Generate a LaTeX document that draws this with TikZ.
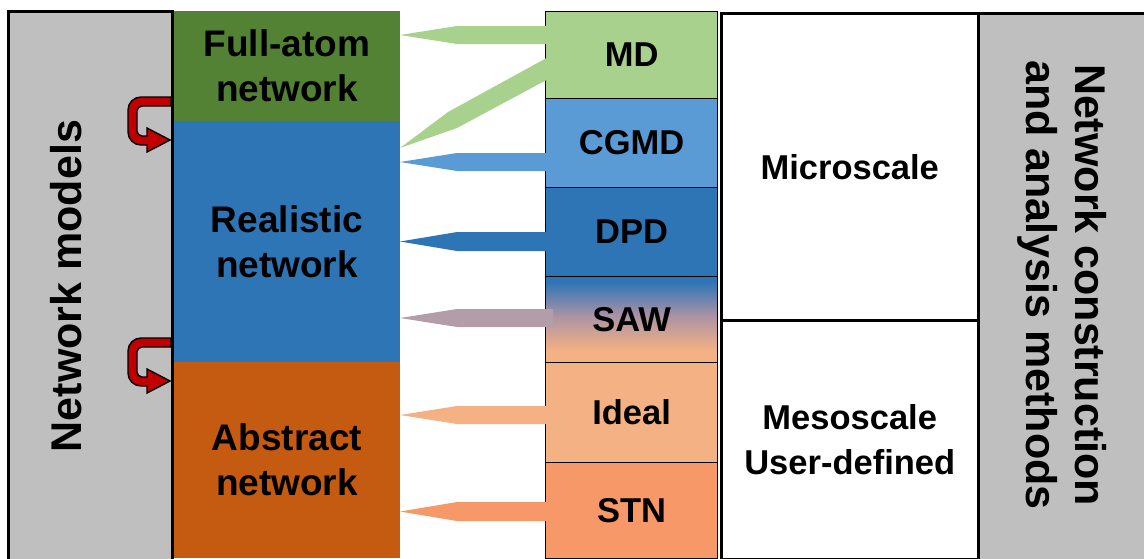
\documentclass[tikz,border=0pt]{standalone}
\usepackage{fontspec}
\setmainfont{Liberation Sans}
\usetikzlibrary{calc}
\definecolor{greyb}{HTML}{BFBFBF}
\definecolor{fullc}{HTML}{548235}
\definecolor{realc}{HTML}{2E75B6}
\definecolor{absc}{HTML}{C55A11}
\definecolor{mdc}{HTML}{A9D18E}
\definecolor{cgmdc}{HTML}{5B9BD5}
\definecolor{dpdc}{HTML}{2E75B6}
\definecolor{mauvec}{HTML}{AC93A4}
\definecolor{idealc}{HTML}{F4B183}
\definecolor{stnc}{HTML}{F79868}
\definecolor{sawarr}{HTML}{B39DA8}
\definecolor{redc}{HTML}{C00000}
\pgfdeclareverticalshading{sawshade}{100bp}{color(0bp)=(idealc); color(32bp)=(idealc); color(52bp)=(mauvec); color(72bp)=(dpdc); color(100bp)=(dpdc)}
\newcommand\connwedge[6]{%
  \fill[#1] ($(#2.west |- 0,#4)+(#6,0)$) -- (457,#4) -- (#3.east |- 0,{(#4+#5)/2})
     -- (457,#5) -- ($(#2.west |- 0,#5)+(#6,0)$) -- cycle;}
\begin{document}
\begin{tikzpicture}[x=1pt,y=-1pt,
  font=\bfseries\fontsize{34.5}{45}\selectfont,
  colbox/.style={anchor=north west, inner sep=0pt, outer sep=0pt, align=center, minimum width=226pt,
    font=\bfseries\fontsize{37}{45}\selectfont},
  methodbox/.style={anchor=north west, draw=black, line width=1.2pt, inner sep=0pt, minimum width=172pt},
  scalebox/.style={anchor=north west, draw=black, line width=3pt, fill=white, inner sep=0pt, align=center, minimum width=257.5pt},
  bigtext/.style={font=\bfseries\fontsize{43}{49}\selectfont, align=center, inner sep=0pt},
  uarrow/.style={fill=redc, draw=black, line width=1.4pt, line join=miter}]
\useasboundingbox (0,0) rectangle (1144,558);
\clip (0,0) rectangle (1144,558);

% left grey box
\draw[line width=3pt, fill=greyb] (8.5,11.5) rectangle (172.5,575);
\node[bigtext, rotate=90] (models) at (66,286) {Network models};

% network model column
\node[colbox, fill=fullc, minimum height=110pt] (full) at (174,11) {Full-atom\\network};
\node[colbox, fill=realc, minimum height=241pt] (real) at (174,121) {Realistic\\network};
\node[colbox, fill=absc, minimum height=196pt] (abs) at (174,362) {Abstract\\network};

% method column
\node[methodbox, fill=mdc, minimum height=87pt] (md) at (545,11) {MD};
\node[methodbox, fill=cgmdc, minimum height=89pt] (cgmd) at (545,98) {CGMD};
\node[methodbox, fill=dpdc, minimum height=89pt] (dpd) at (545,187) {DPD};
\node[methodbox, shading=sawshade, minimum height=86pt] (saw) at (545,276) {SAW};
\node[methodbox, fill=idealc, minimum height=100pt] (ideal) at (545,362) {Ideal};
\node[methodbox, fill=stnc, minimum height=96pt] (stn) at (545,462) {STN};

% scale column
\node[scalebox, minimum height=307.5pt] (micro) at (719.5,11.5) {Microscale};
\node[scalebox, minimum height=239pt] (meso) at (719.5,319) {Mesoscale\\User-defined};

% right grey box
\node[anchor=north west, draw=black, line width=3pt, fill=greyb, minimum width=200pt, minimum height=570pt] (methods) at (977,11.5) {};
\node[bigtext, rotate=-90] (methodstext) at (1062,285) {Network construction\\and analysis methods};

% wedge connectors
\connwedge{mdc}{md}{full}{26}{44}{1.5}
\fill[mdc] ($(md.west |- 0,58)+(1.5,0)$) -- (448,112) -- (real.east |- 0,148) -- (457,128) -- ($(md.west |- 0,80)+(1.5,0)$) -- cycle;
\connwedge{cgmdc}{cgmd}{real}{153}{171}{1.5}
\connwedge{dpdc}{dpd}{real}{232}{251}{1.5}
\connwedge{sawarr}{saw}{real}{309}{327}{8}
\connwedge{idealc}{ideal}{abs}{406}{424}{1.5}
\connwedge{stnc}{stn}{abs}{502}{521}{1.5}

% red U-turn arrows
\foreach \dy in {0,241}{
\begin{scope}[shift={(0,\dy)}]
\draw[uarrow] (171,97) -- (141,97) .. controls (133.8,97) and (128,102.8) .. (128,110)
  -- (128,132) .. controls (128,139.2) and (133.8,145) .. (141,145)
  -- (147,145) -- (147,152) -- (170,140) -- (147,128) -- (147,136)
  -- (142,136) .. controls (139.2,136) and (137,133.8) .. (137,131)
  -- (137,111) .. controls (137,108.2) and (139.2,106) .. (142,106)
  -- (171,106) -- cycle;
\end{scope}}
\end{tikzpicture}
\end{document}
